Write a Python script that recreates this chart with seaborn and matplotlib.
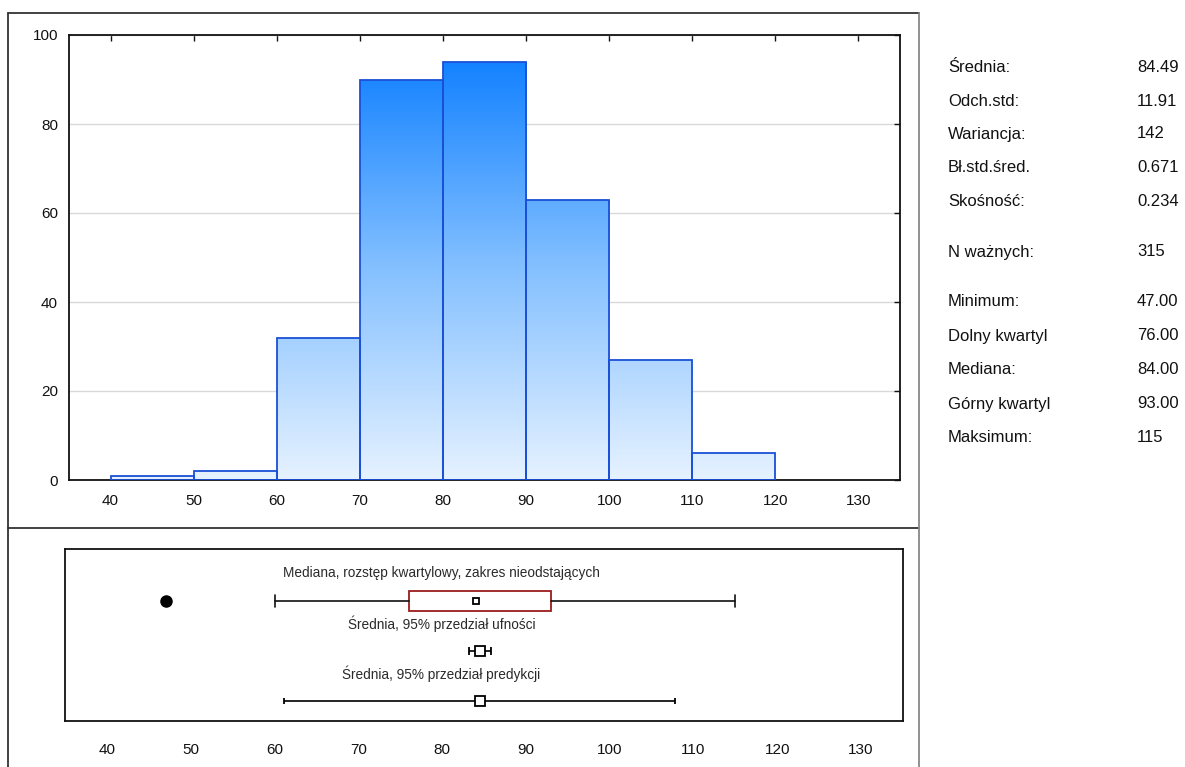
import numpy as np
import matplotlib.pyplot as plt
import seaborn as sns
from matplotlib.colors import LinearSegmentedColormap
from matplotlib.lines import Line2D

sns.set_style('white')
plt.rcParams['font.family'] = ['Liberation Sans', 'DejaVu Sans']

# histogram data
bin_edges = [40, 50, 60, 70, 80, 90, 100, 110, 120]
counts = [1, 2, 32, 90, 94, 63, 27, 6]

# box / interval summary
outliers = [47]
whisker_low, q1, median, q3, whisker_high = 60, 76, 84, 93, 115
mean = 84.49
ci_low, ci_high = 83.17, 85.81
pi_low, pi_high = 61.15, 107.83

row_labels = ['Mediana, rozstęp kwartylowy, zakres nieodstających',
              'Średnia, 95% przedział ufności',
              'Średnia, 95% przedział predykcji']

stat_names = ['Średnia:', 'Odch.std:', 'Wariancja:', 'Bł.std.śred.', 'Skośność:',
              'N ważnych:', 'Minimum:', 'Dolny kwartyl', 'Mediana:',
              'Górny kwartyl', 'Maksimum:']
stat_values = ['84.49', '11.91', '142', '0.671', '0.234', '315',
               '47.00', '76.00', '84.00', '93.00', '115']
stat_rows_px = [67, 101, 134, 168, 201, 252, 302, 336, 370, 404, 437]

W, H = 1185, 767
fig = plt.figure(figsize=(W / 100, H / 100), dpi=100)


def fx(px):
    return px / W


def fy(py):
    return 1 - py / H


# ---- histogram ----
ax = fig.add_axes([fx(69), fy(480), fx(900) - fx(69), fy(35) - fy(480)])
centers = [(a + b) / 2 for a, b in zip(bin_edges[:-1], bin_edges[1:])]
sns.histplot(x=centers, weights=counts, bins=bin_edges, ax=ax,
             edgecolor='#1a50d8', linewidth=1.3, color='#1080ff', alpha=1)

# vertical blue gradient, clipped to each bar
cmap = LinearSegmentedColormap.from_list('blu', ['#e6f2ff', '#82bfff', '#0c7eff'])
grad = np.linspace(0, 1, 256).reshape(-1, 1)
for p in list(ax.patches):
    p.set_facecolor('none')
    p.set_zorder(3)
    im = ax.imshow(grad, extent=[35, 135, 0, 97], origin='lower', cmap=cmap,
                   aspect='auto', zorder=2)
    im.set_clip_path(p)

ax.set_xlim(35, 135)
ax.set_ylim(0, 100)
ax.set_xticks(range(40, 131, 10))
ax.set_yticks(range(0, 101, 20))
ax.set_xlabel('')
ax.set_ylabel('')
ax.yaxis.grid(True, color='#d9d9d9', linewidth=1)
ax.set_axisbelow(True)
ax.tick_params(direction='in', top=True, right=True, length=4, width=1,
               labelsize=11, colors='#111111')
ax.tick_params(axis='x', pad=10)
ax.tick_params(axis='y', pad=8)
for s in ax.spines.values():
    s.set_color('#111111')
    s.set_linewidth(1.3)

# ---- box / intervals ----
ax2 = fig.add_axes([fx(65), fy(721), fx(903) - fx(65), fy(549) - fy(721)])
stats = [dict(med=median, q1=q1, q3=q3, whislo=whisker_low,
              whishi=whisker_high, fliers=outliers)]
ax2.bxp(stats, positions=[1], vert=False, widths=0.4, capwidths=0.25,
        patch_artist=True, showfliers=True,
        boxprops=dict(facecolor='white', edgecolor='#9b1c1c', linewidth=1.3),
        whiskerprops=dict(color='#111111', linewidth=1.2),
        capprops=dict(color='#111111', linewidth=1.2),
        medianprops=dict(linewidth=0),
        flierprops=dict(marker='o', markerfacecolor='black',
                        markeredgecolor='black', markersize=8))
ax2.plot([median], [1], marker='s', markersize=4.5, markerfacecolor='white',
         markeredgecolor='black', markeredgewidth=1.3, zorder=5)
ax2.errorbar([mean], [2], xerr=[[mean - ci_low], [ci_high - mean]], fmt='s',
             markersize=6.5, markerfacecolor='white', markeredgecolor='black',
             markeredgewidth=1.3, ecolor='black', elinewidth=1.2, capsize=3,
             capthick=1.2)
ax2.errorbar([mean], [3], xerr=[[mean - pi_low], [pi_high - mean]], fmt='s',
             markersize=6.5, markerfacecolor='white', markeredgecolor='black',
             markeredgewidth=1.3, ecolor='black', elinewidth=1.2, capsize=2,
             capthick=1.2)
for i, lab in enumerate(row_labels):
    ax2.text(0.449, 1 + i - 0.55, lab, transform=ax2.get_yaxis_transform(),
             ha='center', va='center', fontsize=9.8, color='#2a2a2a')
ax2.set_xlim(35, 135)
ax2.set_ylim(3.4, -0.04)
ax2.set_xticks(range(40, 131, 10))
ax2.set_yticks([])
ax2.tick_params(axis='x', length=0, pad=16, labelsize=11, colors='#111111')
for s in ax2.spines.values():
    s.set_color('#111111')
    s.set_linewidth(1.3)

# ---- statistics panel ----
for name, val, py in zip(stat_names, stat_values, stat_rows_px):
    fig.text(fx(948), fy(py), name, ha='left', va='center', fontsize=12,
             color='#111111')
    fig.text(fx(1137), fy(py), val, ha='left', va='center', fontsize=12,
             color='#111111')

# ---- panel frames ----
frame = dict(color='#333333', linewidth=1.3)
fig.add_artist(Line2D([fx(8), fx(919)], [fy(13), fy(13)], **frame))
fig.add_artist(Line2D([fx(8), fx(8)], [fy(13), 0], **frame))
fig.add_artist(Line2D([fx(8), fx(919)], [fy(528), fy(528)], **frame))
fig.add_artist(Line2D([fx(919), fx(919)], [fy(13), 0], color='#888888',
                      linewidth=1.3))

fig.savefig('out.png', dpi=100)
